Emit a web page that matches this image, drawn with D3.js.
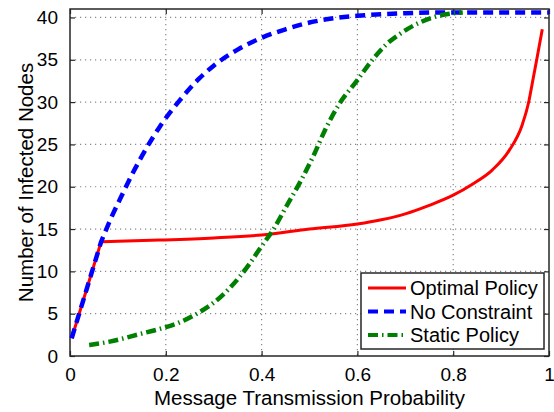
<!DOCTYPE html>
<html>
<head>
<meta charset="utf-8">
<script src="https://cdn.jsdelivr.net/npm/d3@7"></script>
<style>
  body { margin: 0; background: #fff; }
  svg { font-family: "Liberation Sans", Arial, Helvetica, sans-serif; }
</style>
</head>
<body>
<svg width="554" height="412"></svg>
<script>
// values
const optimalX = [0.0035, 0.065, 0.1, 0.1875, 0.3, 0.4, 0.5, 0.6, 0.65, 0.7, 0.75, 0.8, 0.84, 0.882, 0.917, 0.944, 0.958, 0.965, 0.975, 0.986];
const optimalY = [2.1, 13.5, 13.55, 13.7, 13.95, 14.3, 15.0, 15.6, 16.1, 16.8, 17.8, 19.0, 20.3, 22.0, 24.3, 27.3, 30.1, 32.2, 35.2, 38.6];

const noConstraintX = [0.0035, 0.065, 0.085, 0.105, 0.13, 0.16, 0.1875, 0.229, 0.27, 0.3, 0.35, 0.4, 0.45, 0.5, 0.55, 0.6, 0.7, 0.8, 1.0];
const noConstraintY = [2.1, 13.5, 16.2, 18.6, 21.5, 24.6, 27.1, 30.2, 32.8, 34.3, 36.2, 37.6, 38.6, 39.4, 39.9, 40.2, 40.5, 40.6, 40.6];

const staticX = [0.04, 0.083, 0.146, 0.1875, 0.23, 0.271, 0.3, 0.333, 0.375, 0.399, 0.424, 0.451, 0.479, 0.507, 0.535, 0.5625, 0.6, 0.63, 0.66, 0.69, 0.73, 0.77, 0.8, 0.82];
const staticY = [1.3, 1.7, 2.6, 3.2, 4.0, 5.2, 6.3, 8.0, 10.9, 12.9, 14.9, 17.6, 20.4, 23.5, 27.0, 29.8, 32.6, 34.9, 36.8, 38.1, 39.4, 40.2, 40.5, 40.6];

const seriesNames = ['Optimal Policy', 'No Constraint', 'Static Policy'];
const xTicks = [0, 0.2, 0.4, 0.6, 0.8, 1];
const xTickLabels = ['0', '0.2', '0.4', '0.6', '0.8', '1'];
const yTicks = [0, 5, 10, 15, 20, 25, 30, 35, 40];

// straightLead: number of leading points joined by straight segments before the smooth part
const series = [
  { name: seriesNames[0], pts: optimalX.map((x, i) => [x, optimalY[i]]), color: '#ff0000', width: 3, dash: null, straightLead: 1 },
  { name: seriesNames[1], pts: noConstraintX.map((x, i) => [x, noConstraintY[i]]), color: '#0000ff', width: 4.5, dash: '10,6', straightLead: 1 },
  { name: seriesNames[2], pts: staticX.map((x, i) => [x, staticY[i]]), color: '#008000', width: 4.5, dash: '10,4,1.5,4', straightLead: 0 },
];

const svg = d3.select('svg');
const margin = { top: 9, right: 5, bottom: 56, left: 70 };
const width = +svg.attr('width') - margin.left - margin.right;
const height = +svg.attr('height') - margin.top - margin.bottom;

const x = d3.scaleLinear().domain([0, 1]).range([0, width]);
const y = d3.scaleLinear().domain([0, 41]).range([height, 0]);

const g = svg.append('g').attr('transform', `translate(${margin.left},${margin.top})`);

// dotted grid
g.append('g')
  .attr('class', 'grid')
  .selectAll('line.gx')
  .data(xTicks.filter(t => t > 0 && t < 1))
  .enter()
  .append('line')
    .attr('x1', d => x(d)).attr('x2', d => x(d))
    .attr('y1', 0).attr('y2', height)
    .attr('stroke', '#888').attr('stroke-width', 1.2)
    .attr('stroke-dasharray', '1.2,3.8');

g.append('g')
  .attr('class', 'grid')
  .selectAll('line.gy')
  .data(yTicks.filter(t => t > 0))
  .enter()
  .append('line')
    .attr('x1', 0).attr('x2', width)
    .attr('y1', d => y(d)).attr('y2', d => y(d))
    .attr('stroke', '#888').attr('stroke-width', 1.2)
    .attr('stroke-dasharray', '1.2,3.8');

// axes with inward ticks on all four sides
const axisColor = '#262626';
const styleAxis = (sel) => {
  sel.select('.domain').remove();
  sel.selectAll('.tick line').attr('stroke', axisColor).attr('stroke-width', 1.2);
  sel.selectAll('.tick text').attr('fill', '#000').attr('font-size', 19);
};

g.append('g')
  .attr('transform', `translate(0,${height})`)
  .call(d3.axisBottom(x).tickValues(xTicks).tickFormat((d, i) => xTickLabels[i]).tickSizeInner(-5).tickPadding(12))
  .call(styleAxis);

g.append('g')
  .call(d3.axisTop(x).tickValues(xTicks).tickSizeInner(-5).tickFormat(''))
  .call(styleAxis);

g.append('g')
  .call(d3.axisLeft(y).tickValues(yTicks).tickSizeInner(-5).tickPadding(12))
  .call(styleAxis);

g.append('g')
  .attr('transform', `translate(${width},0)`)
  .call(d3.axisRight(y).tickValues(yTicks).tickSizeInner(-5).tickFormat(''))
  .call(styleAxis);

g.append('rect')
  .attr('width', width).attr('height', height)
  .attr('fill', 'none').attr('stroke', axisColor).attr('stroke-width', 1.5);

// lines: straight lead-in, then a monotone curve, in one path so dashes stay continuous
const smooth = d3.line()
  .x(d => x(d[0]))
  .y(d => y(d[1]))
  .curve(d3.curveMonotoneX);

const pathFor = (d) => {
  const k = d.straightLead;
  if (!k) return smooth(d.pts);
  const lead = d.pts.slice(0, k).map((p, i) => `${i ? 'L' : 'M'}${x(p[0])},${y(p[1])}`).join('');
  return lead + smooth(d.pts.slice(k)).replace(/^M/, 'L');
};

g.append('g')
  .selectAll('path')
  .data(series)
  .enter()
  .append('path')
    .attr('d', pathFor)
    .attr('fill', 'none')
    .attr('stroke', d => d.color)
    .attr('stroke-width', d => d.width)
    .attr('stroke-dasharray', d => d.dash)
    .attr('stroke-linejoin', 'round');

// legend
const legend = svg.append('g').attr('transform', 'translate(361,273)');
legend.append('rect')
  .attr('width', 183).attr('height', 76)
  .attr('fill', '#fff').attr('stroke', axisColor).attr('stroke-width', 1.5);

const item = legend.selectAll('.item')
  .data(series)
  .enter()
  .append('g')
    .attr('class', 'item')
    .attr('transform', (d, i) => `translate(0,${15 + i * 23.5})`);

item.append('line')
  .attr('x1', 7).attr('x2', 45)
  .attr('stroke', d => d.color)
  .attr('stroke-width', d => d.width === 3 ? 3 : 4)
  .attr('stroke-dasharray', d => d.dash);

item.append('text')
  .attr('x', 49)
  .attr('dy', '0.35em')
  .attr('font-size', 20)
  .text(d => d.name);

// axis titles
svg.append('text')
  .attr('x', margin.left + width / 2)
  .attr('y', 405)
  .attr('text-anchor', 'middle')
  .attr('font-size', 20.5)
  .text('Message Transmission Probability');

svg.append('text')
  .attr('transform', `translate(33,${margin.top + height / 2}) rotate(-90)`)
  .attr('text-anchor', 'middle')
  .attr('font-size', 20.5)
  .text('Number of Infected Nodes');
</script>
</body>
</html>
